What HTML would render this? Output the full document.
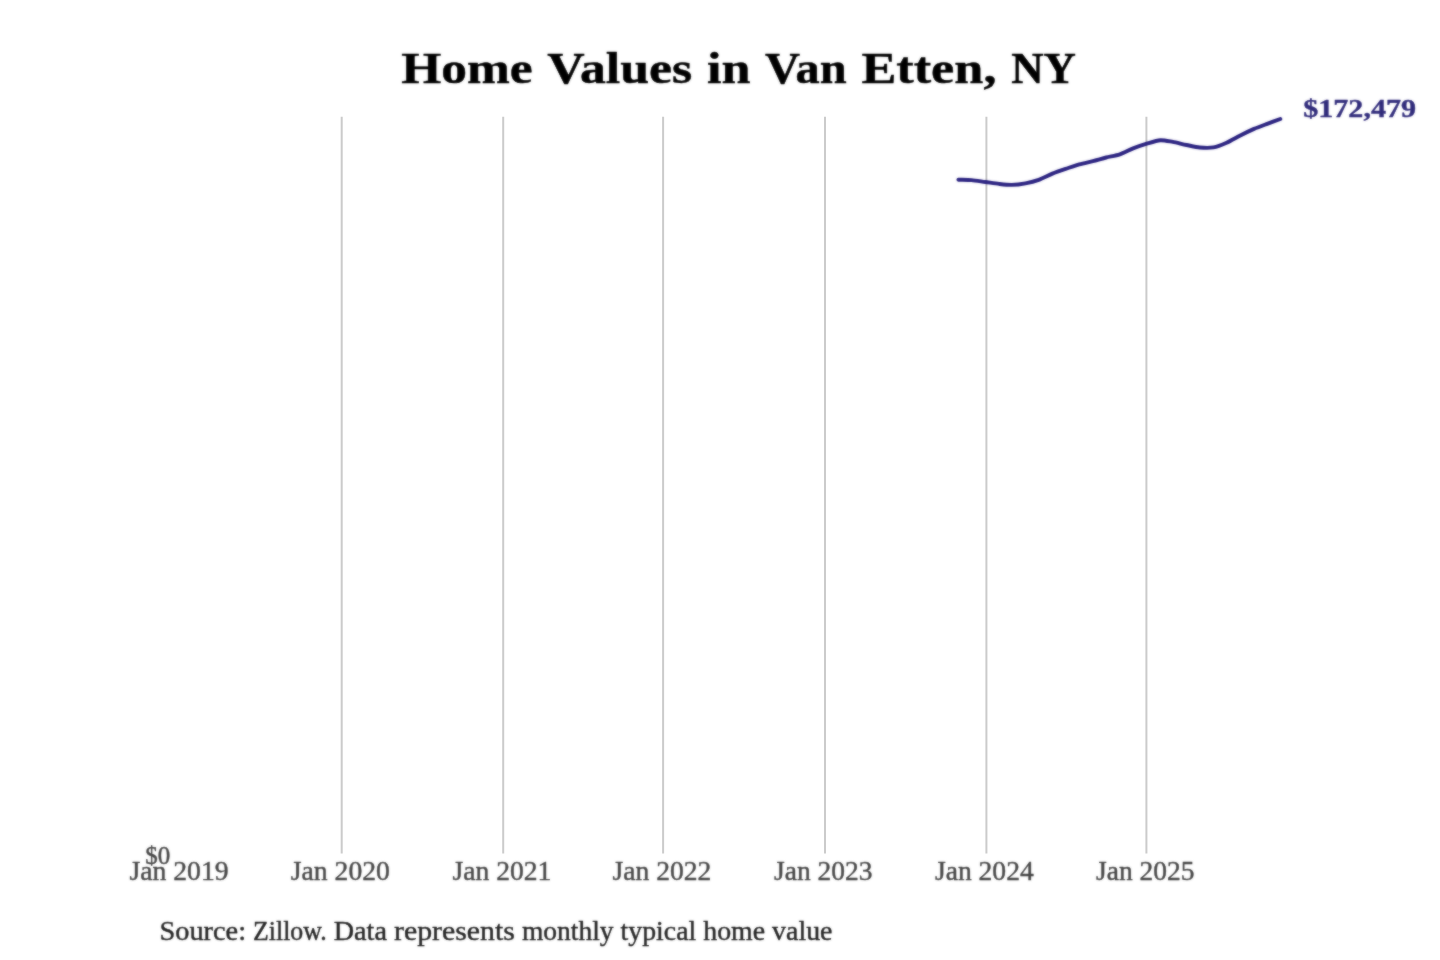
<!DOCTYPE html>
<html><head><meta charset="utf-8"><title>Home Values in Van Etten, NY</title>
<style>
html,body{margin:0;padding:0;background:#fff;}
body{width:1440px;height:960px;overflow:hidden;font-family:"Liberation Serif",serif;}
svg{display:block;}
text{font-family:"Liberation Serif",serif;}
</style></head><body>
<svg width="1440" height="960" viewBox="0 0 1440 960">
<defs><filter id="soft" color-interpolation-filters="sRGB" filterUnits="userSpaceOnUse" x="0" y="0" width="1440" height="960"><feGaussianBlur stdDeviation="1" result="b"/><feComposite in="SourceGraphic" in2="b" operator="arithmetic" k1="0" k2="0.45" k3="0.55" k4="0"/></filter></defs>
<rect width="1440" height="960" fill="#ffffff"/>
<g stroke="#cbcbcb" stroke-width="2">
<line x1="341.7" y1="116.8" x2="341.7" y2="853.6"/>
<line x1="503.2" y1="116.8" x2="503.2" y2="853.6"/>
<line x1="663.1" y1="116.8" x2="663.1" y2="853.6"/>
<line x1="825.0" y1="116.8" x2="825.0" y2="853.6"/>
<line x1="986.4" y1="116.8" x2="986.4" y2="853.6"/>
<line x1="1146.4" y1="116.8" x2="1146.4" y2="853.6"/>
</g>
<g filter="url(#soft)">
<path d="M958.4,179.7 C960.2,179.8 968.0,179.8 971.6,180.1 C975.2,180.4 981.6,181.5 985.3,182.0 C989.0,182.5 995.5,183.5 999.0,183.9 C1002.5,184.3 1008.3,185.0 1011.8,184.9 C1015.3,184.8 1021.8,184.0 1025.4,183.3 C1029.0,182.6 1035.1,181.1 1038.7,179.8 C1042.3,178.5 1048.8,175.1 1052.4,173.6 C1056.0,172.1 1062.0,170.1 1065.6,168.9 C1069.2,167.7 1075.7,165.4 1079.3,164.4 C1082.9,163.4 1089.3,162.0 1092.9,161.1 C1096.5,160.2 1102.6,158.4 1106.2,157.5 C1109.8,156.6 1116.2,155.6 1119.8,154.4 C1123.4,153.2 1129.5,149.8 1133.1,148.4 C1136.7,147.0 1143.2,144.8 1146.8,143.7 C1150.4,142.6 1156.9,140.4 1160.4,140.2 C1163.9,140.0 1169.3,141.3 1172.8,141.9 C1176.3,142.5 1182.9,144.3 1186.5,145.0 C1190.1,145.7 1196.1,147.2 1199.7,147.5 C1203.3,147.8 1209.8,148.0 1213.4,147.4 C1217.0,146.8 1223.0,144.4 1226.6,142.8 C1230.2,141.2 1236.6,137.4 1240.3,135.5 C1244.0,133.6 1250.4,130.5 1254.0,128.9 C1257.6,127.3 1263.7,125.1 1267.2,123.8 C1270.7,122.5 1278.6,119.6 1280.3,119.0" fill="none" stroke="#2b2381" stroke-width="3.9" stroke-linejoin="round" stroke-linecap="round"/>
<text transform="translate(401.30,83.00) scale(2.5722,2.2328)" font-size="20" font-weight="bold" fill="#000" stroke="#000" stroke-width="0.208" stroke-linejoin="round">Home</text>
<text transform="translate(547.23,83.00) scale(2.5913,2.2328)" font-size="20" font-weight="bold" fill="#000" stroke="#000" stroke-width="0.207" stroke-linejoin="round">Values</text>
<text transform="translate(706.93,83.00) scale(2.6067,2.2328)" font-size="20" font-weight="bold" fill="#000" stroke="#000" stroke-width="0.207" stroke-linejoin="round">in</text>
<text transform="translate(764.89,83.00) scale(2.4244,2.2328)" font-size="20" font-weight="bold" fill="#000" stroke="#000" stroke-width="0.215" stroke-linejoin="round">Van</text>
<text transform="translate(861.42,83.00) scale(2.6148,2.2328)" font-size="20" font-weight="bold" fill="#000" stroke="#000" stroke-width="0.206" stroke-linejoin="round">Etten,</text>
<text transform="translate(1011.24,83.00) scale(2.2410,2.2328)" font-size="20" font-weight="bold" fill="#000" stroke="#000" stroke-width="0.224" stroke-linejoin="round">NY</text>
<text transform="translate(1303.20,116.60) scale(1.5067,1.2348)" font-size="20" font-weight="bold" fill="#2f2a7a" stroke="#2f2a7a" stroke-width="0.292" stroke-linejoin="round">$172,479</text>
<text transform="translate(145.20,864.00) scale(1.2500,1.2782)" font-size="20" fill="#444" stroke="#444" stroke-width="0.316" stroke-linejoin="round">$0</text>
<text transform="translate(129.40,879.60) scale(1.3857,1.3218)" font-size="20" fill="#444" stroke="#444" stroke-width="0.295" stroke-linejoin="round">Jan 2019</text>
<text transform="translate(290.80,879.60) scale(1.3843,1.3218)" font-size="20" fill="#444" stroke="#444" stroke-width="0.296" stroke-linejoin="round">Jan 2020</text>
<text transform="translate(452.50,879.60) scale(1.3815,1.3218)" font-size="20" fill="#444" stroke="#444" stroke-width="0.296" stroke-linejoin="round">Jan 2021</text>
<text transform="translate(612.50,879.60) scale(1.3815,1.3218)" font-size="20" fill="#444" stroke="#444" stroke-width="0.296" stroke-linejoin="round">Jan 2022</text>
<text transform="translate(774.00,879.60) scale(1.3745,1.3218)" font-size="20" fill="#444" stroke="#444" stroke-width="0.297" stroke-linejoin="round">Jan 2023</text>
<text transform="translate(934.90,879.60) scale(1.3801,1.3218)" font-size="20" fill="#444" stroke="#444" stroke-width="0.296" stroke-linejoin="round">Jan 2024</text>
<text transform="translate(1096.00,879.60) scale(1.3745,1.3218)" font-size="20" fill="#444" stroke="#444" stroke-width="0.297" stroke-linejoin="round">Jan 2025</text>
<text transform="translate(159.50,939.50) scale(1.4168,1.3218)" font-size="20" fill="#222" stroke="#222" stroke-width="0.292" stroke-linejoin="round">Source:</text>
<text transform="translate(253.12,939.50) scale(1.2894,1.3218)" font-size="20" fill="#222" stroke="#222" stroke-width="0.306" stroke-linejoin="round">Zillow.</text>
<text transform="translate(333.72,939.50) scale(1.4091,1.3218)" font-size="20" fill="#222" stroke="#222" stroke-width="0.293" stroke-linejoin="round">Data</text>
<text transform="translate(393.99,939.50) scale(1.4911,1.3218)" font-size="20" fill="#222" stroke="#222" stroke-width="0.284" stroke-linejoin="round">represents</text>
<text transform="translate(521.94,939.50) scale(1.3742,1.3218)" font-size="20" fill="#222" stroke="#222" stroke-width="0.297" stroke-linejoin="round">monthly</text>
<text transform="translate(620.60,939.50) scale(1.3887,1.3218)" font-size="20" fill="#222" stroke="#222" stroke-width="0.295" stroke-linejoin="round">typical</text>
<text transform="translate(703.23,939.50) scale(1.3922,1.3218)" font-size="20" fill="#222" stroke="#222" stroke-width="0.295" stroke-linejoin="round">home</text>
<text transform="translate(772.10,939.50) scale(1.3944,1.3218)" font-size="20" fill="#222" stroke="#222" stroke-width="0.295" stroke-linejoin="round">value</text>
</g>
</svg></body></html>
